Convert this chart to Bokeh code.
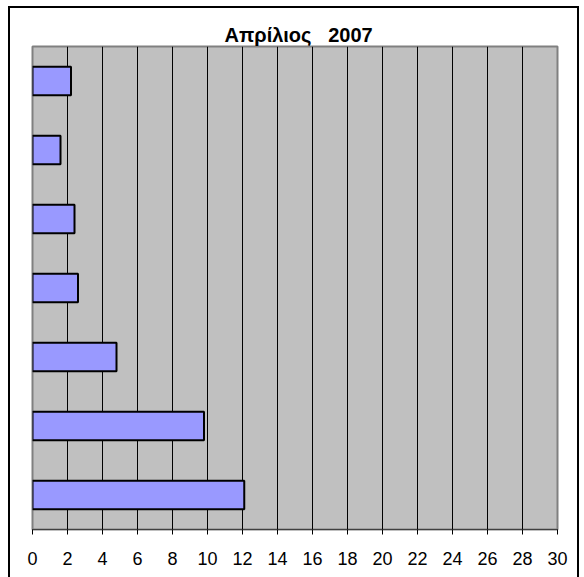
from bokeh.plotting import figure
from bokeh.models import FactorRange, Range1d, FixedTicker
from bokeh.embed import file_html
from bokeh.resources import INLINE

title_text = "Απρίλιος\u00a0\u00a0\u00a02007"
# categories listed top to bottom (no visible labels in the reference)
categories = ["1", "2", "3", "4", "5", "6", "7"]
values = [2.2, 1.6, 2.4, 2.6, 4.8, 9.8, 12.1]
x_ticks = list(range(0, 31, 2))

cats_bottom_up = categories[::-1]
vals_bottom_up = values[::-1]

p = figure(
    output_backend="svg", toolbar_location=None,
    width=571, height=571,
    frame_width=525, frame_height=483,
    min_border_left=22, min_border_right=20, min_border_top=38, min_border_bottom=48,
    x_range=Range1d(0, 30), y_range=FactorRange(*cats_bottom_up, range_padding=0),
)
p.y_range.factor_padding = 0
p.styles = {"border-top": "2px solid black", "border-left": "2px solid black",
            "border-right": "2px solid black", "border-bottom": "none",
            "box-sizing": "border-box",
            "margin-left": "8px", "margin-top": "6px"}

p.background_fill_color = "#c0c0c0"
p.border_fill_color = "white"
p.outline_line_color = "#808080"
p.outline_line_width = 2

p.hbar(y=cats_bottom_up, right=vals_bottom_up, left=0, height=0.41,
       fill_color="#9999ff", line_color="black", line_width=2)

p.yaxis.visible = False
p.ygrid.visible = False
p.xgrid.grid_line_color = "black"
p.xgrid.grid_line_width = 1
p.xaxis.ticker = FixedTicker(ticks=x_ticks)
p.xaxis.axis_line_color = "#404040"
p.xaxis.axis_line_width = 1
p.xaxis.major_tick_out = 5
p.xaxis.major_tick_in = 0
p.xaxis.minor_tick_out = 0
p.xaxis.minor_tick_in = 0
p.xaxis.major_tick_line_color = "black"
p.xaxis.major_label_text_font = "Liberation Sans"
p.xaxis.major_label_text_font_size = "18px"
p.xaxis.major_label_text_color = "black"
p.xaxis.major_label_standoff = 17

p.title.text = title_text
p.title.align = "left"
p.title.offset = 192
p.title.standoff = 2
p.title.text_font = "Liberation Sans"
p.title.text_font_size = "20px"
p.title.text_font_style = "bold"
p.title.text_color = "black"

open("out.html", "w").write(file_html(p, INLINE))
